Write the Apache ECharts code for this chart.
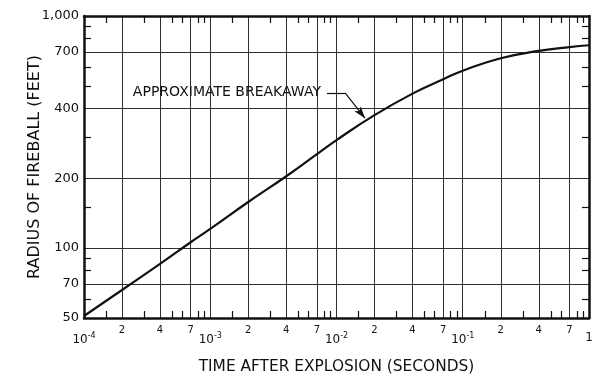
<!DOCTYPE html>
<html><head><meta charset="utf-8">
<script src="https://cdn.jsdelivr.net/npm/echarts@6/dist/echarts.min.js"></script>
<style>html,body{margin:0;padding:0;background:#fff}#c{width:600px;height:383px}</style>
</head><body><div id="c"></div>
<script>
// Curve data: time after explosion (s) and fireball radius (ft)
const timeSec  = [1e-4, 2e-4, 4e-4, 7e-4, 1e-3, 2e-3, 4e-3, 7e-3, 1e-2, 2e-2, 4e-2, 7e-2, 1e-1, 2e-1, 4e-1, 7e-1, 1];
const radiusFt = [51,   66,   85.5, 106,  121,  158,  204,  254,  292,  374,  463,  534,  581,  658,  707,  735,  748];

// Axis tick values
const xGridTicks    = [2e-4, 4e-4, 7e-4, 1e-3, 2e-3, 4e-3, 7e-3, 1e-2, 2e-2, 4e-2, 7e-2, 1e-1, 2e-1, 4e-1, 7e-1];
const xDigitLabels  = [2e-4, 4e-4, 7e-4, 2e-3, 4e-3, 7e-3, 2e-2, 4e-2, 7e-2, 2e-1, 4e-1, 7e-1];
const xDecadeLabels = [1e-4, 1e-3, 1e-2, 1e-1, 1];
const xMinorTicks   = [1.5e-4, 3e-4, 5e-4, 6e-4, 8e-4, 9e-4,
                       1.5e-3, 3e-3, 5e-3, 6e-3, 8e-3, 9e-3,
                       1.5e-2, 3e-2, 5e-2, 6e-2, 8e-2, 9e-2,
                       1.5e-1, 3e-1, 5e-1, 6e-1, 8e-1, 9e-1];
const yGridTicks  = [70, 100, 200, 400, 700];
const yLabels     = [50, 70, 100, 200, 400, 700, 1000];
const yMinorTicks = [60, 80, 90, 150, 300, 500, 600, 800, 900];

// Annotation leader (data space)
const leaderT = [8.4e-3, 1.17e-2, 1.68e-2];
const leaderR = [467, 467, 363];
const annotationText = 'APPROXIMATE BREAKAWAY';

const FONT = 'DejaVu Sans';
const INK = '#111';
const X_MIN = 1e-4, X_MAX = 1, Y_MIN = 50, Y_MAX = 1000;

function digitFmt(v) {
  const e = Math.floor(Math.log10(v));
  return String(Math.round(v / Math.pow(10, e)));
}
function decadeFmt(v) {
  const e = Math.round(Math.log10(v));
  if (e === 0) return '{b|1}';
  return '{b|10}{s|' + e + '}';
}
function yFmt(v) {
  const r = Math.round(v);
  return r === 1000 ? '1,000' : String(r);
}

const frame = { show: true, lineStyle: { color: INK, width: 2.5 } };
const minorTick = { show: true, inside: true, length: 7, lineStyle: { color: INK, width: 1.2 } };
const gridLine = { show: true, lineStyle: { color: '#2e2e2e', width: 1 } };

const chart = echarts.init(document.getElementById('c'), null, { renderer: 'canvas' });
chart.setOption({
  backgroundColor: '#fff',
  animation: false,
  grid: { left: 84, right: 11, top: 16, bottom: 65 },
  xAxis: [
    {
      type: 'log', logBase: 10, min: X_MIN, max: X_MAX, position: 'bottom',
      axisLine: frame,
      axisTick: { show: false, customValues: xGridTicks },
      splitLine: gridLine,
      axisLabel: { customValues: xDigitLabels, formatter: digitFmt, margin: 7,
                   fontSize: 10, color: INK, fontFamily: FONT },
      name: 'TIME AFTER EXPLOSION (SECONDS)', nameLocation: 'middle', nameGap: 41,
      nameMoveOverlap: false,
      nameTextStyle: { fontSize: 15.4, color: INK, fontFamily: FONT, verticalAlign: 'top' }
    },
    {
      type: 'log', logBase: 10, min: X_MIN, max: X_MAX, position: 'bottom',
      axisLine: { show: false },
      axisTick: Object.assign({ customValues: xMinorTicks }, minorTick),
      splitLine: { show: false },
      axisLabel: { customValues: xDecadeLabels, formatter: decadeFmt, margin: 14,
        rich: {
          b: { fontSize: 12, color: INK, fontFamily: FONT },
          s: { fontSize: 8, color: INK, fontFamily: FONT, padding: [0, 0, 8, 0] }
        } }
    },
    {
      type: 'log', logBase: 10, min: X_MIN, max: X_MAX, position: 'top',
      axisLine: frame,
      axisTick: Object.assign({ customValues: xMinorTicks }, minorTick),
      splitLine: { show: false },
      axisLabel: { show: false }
    }
  ],
  yAxis: [
    {
      type: 'log', logBase: 10, min: Y_MIN, max: Y_MAX, position: 'left',
      axisLine: frame,
      axisTick: { show: false, customValues: yGridTicks },
      splitLine: gridLine,
      axisLabel: { customValues: yLabels, formatter: yFmt, margin: 5,
                   fontSize: 13, color: INK, fontFamily: FONT },
      name: 'RADIUS OF FIREBALL (FEET)', nameLocation: 'middle', nameGap: 41, nameRotate: 90,
      nameMoveOverlap: false,
      nameTextStyle: { fontSize: 16, color: INK, fontFamily: FONT, verticalAlign: 'bottom' }
    },
    {
      type: 'log', logBase: 10, min: Y_MIN, max: Y_MAX, position: 'left',
      axisLine: { show: false },
      axisTick: Object.assign({ customValues: yMinorTicks }, minorTick),
      splitLine: { show: false },
      axisLabel: { show: false }
    },
    {
      type: 'log', logBase: 10, min: Y_MIN, max: Y_MAX, position: 'right',
      axisLine: frame,
      axisTick: Object.assign({ customValues: yMinorTicks }, minorTick),
      splitLine: { show: false },
      axisLabel: { show: false }
    }
  ],
  series: [
    {
      type: 'line',
      xAxisIndex: 0, yAxisIndex: 0,
      data: timeSec.map((t, i) => [t, radiusFt[i]]),
      smooth: 0.5,
      showSymbol: false, symbol: 'none',
      lineStyle: { color: INK, width: 2.2 },
      z: 5,
      markLine: {
        silent: true,
        symbol: ['none', 'none'],
        lineStyle: { color: INK, width: 1.2, type: 'solid' },
        label: { show: false },
        data: [
          [{ coord: [leaderT[0], leaderR[0]], symbol: 'none' },
           { coord: [leaderT[1], leaderR[1]], symbol: 'none' }],
          [{ coord: [leaderT[1], leaderR[1]], symbol: 'none' },
           { coord: [leaderT[2], leaderR[2]], symbol: 'arrow', symbolSize: [6, 12] }]
        ]
      },
      markPoint: {
        silent: true,
        symbol: 'circle', symbolSize: 0,
        data: [{ coord: [leaderT[0], leaderR[0]], value: annotationText }],
        label: { show: true, position: 'left', distance: 6, formatter: annotationText,
                 fontSize: 14, color: INK, fontFamily: FONT }
      }
    }
  ]
});
</script></body></html>
